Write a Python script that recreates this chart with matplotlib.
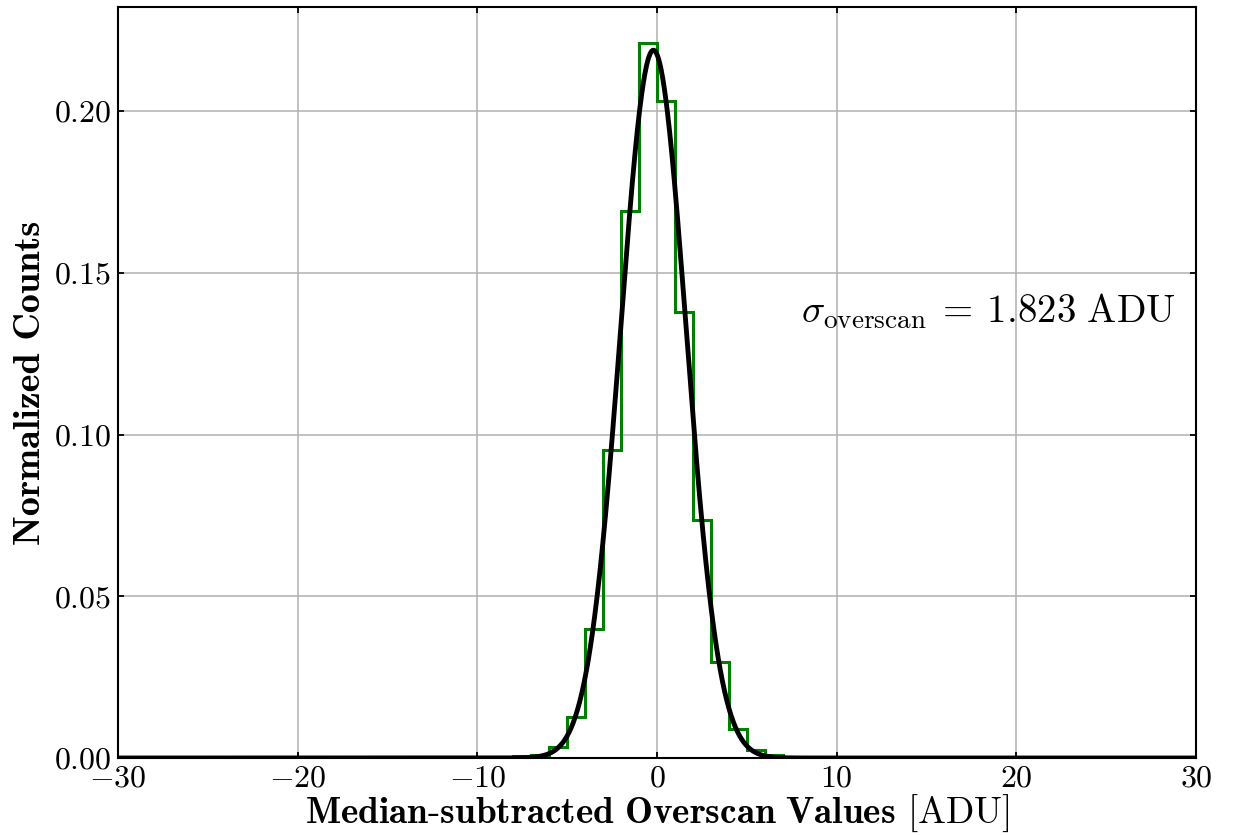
import matplotlib

matplotlib.use("Agg")
import matplotlib.pyplot as plt
import numpy as np

plt.rcParams["font.family"] = "serif"
plt.rcParams["font.serif"] = ["cmr10"]
plt.rcParams["mathtext.fontset"] = "cm"
plt.rcParams["axes.formatter.use_mathtext"] = True

# histogram (normalized counts), unit-width bins
bin_edges = np.arange(-8, 8)
bin_heights = [0.0006, 0.0009, 0.0035, 0.0128, 0.040, 0.0952, 0.169,
               0.221, 0.203, 0.138, 0.0736, 0.0297, 0.009, 0.0025, 0.001]

# gaussian fit
mu_fit = -0.2
sigma_fit = 1.823

fig = plt.figure(figsize=(12.34, 8.35), dpi=100)
ax = fig.add_axes([118 / 1234, 1 - 758 / 835, 1078 / 1234, 751 / 835])

ax.hist(bin_edges[:-1], bins=bin_edges, weights=bin_heights,
        histtype="step", color="green", linewidth=2.2, zorder=3)

xs = np.linspace(-30, 30, 2000)
pdf = np.exp(-0.5 * ((xs - mu_fit) / sigma_fit) ** 2) / (sigma_fit * np.sqrt(2 * np.pi))
ax.plot(xs, pdf, color="black", linewidth=3.5, zorder=4)

ax.text(8, 0.1348, r"$\sigma_{\rm overscan}\:=\:1.823\ \rm ADU$",
        fontsize=28, ha="left", va="baseline")

ax.set_xlim(-30, 30)
ax.set_ylim(0, 0.2322)
ax.set_xticks(np.arange(-30, 31, 10))
ax.set_yticks([0.0, 0.05, 0.10, 0.15, 0.20])
ax.yaxis.set_major_formatter(matplotlib.ticker.FormatStrFormatter(r"$%.2f$"))
ax.grid(True, color="#b0b0b0", linewidth=1.1)
ax.set_axisbelow(True)

ax.tick_params(direction="in", top=True, right=True, length=4.5, width=1.3,
               labelsize=23, pad=5)
for sp in ax.spines.values():
    sp.set_linewidth(1.5)

ax.set_xlabel(r"$\mathbf{Median}$-$\mathbf{subtracted\ Overscan\ Values}$ [ADU]",
              fontsize=26.8, labelpad=0)
ax.set_ylabel("Normalized Counts", fontsize=27.5, family="cmb10", labelpad=5)

fig.savefig("out.png", dpi=100)
plt.close(fig)
